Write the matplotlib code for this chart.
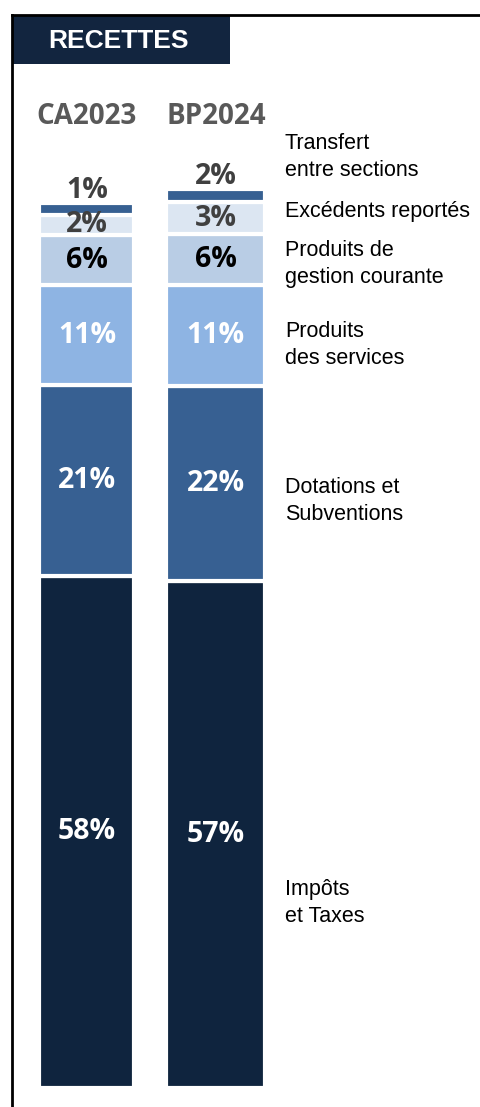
import matplotlib
matplotlib.use("Agg")
import matplotlib.pyplot as plt
from matplotlib.patches import Rectangle
from matplotlib.lines import Line2D
import numpy as np

# data (shares in %, bottom -> top)
years = ["CA2023", "BP2024"]
categories = ["Impôts\net Taxes", "Dotations et\nSubventions", "Produits\ndes services",
              "Produits de\ngestion courante", "Excédents reportés", "Transfert\nentre sections"]
ca2023 = [57.9, 21.5, 11.3, 5.7, 2.3, 1.3]
bp2024 = [57.3, 22.0, 11.4, 5.8, 3.6, 1.5]
ca2023_labels = ["58%", "21%", "11%", "6%", "2%", "1%"]
bp2024_labels = ["57%", "22%", "11%", "6%", "3%", "2%"]

colors = ["#0F243E", "#376092", "#8EB4E3", "#B9CDE5", "#DCE6F2", "#376092"]
text_colors = ["white", "white", "white", "black", "#404040", "#404040"]

W, H = 481, 1107
fig = plt.figure(figsize=(W / 100, H / 100), dpi=100)

# axes placed in pixel terms: x unit = 128.8 px, y unit = 8.85 px
px_unit_x, px_unit_y = 128.8, 8.85
left_px = 87 - 0.5 * px_unit_x
bottom_px = 1088
ymax = 110
ax = fig.add_axes([left_px / W, 1 - bottom_px / H,
                   2 * px_unit_x / W, ymax * px_unit_y / H])
ax.set_xlim(-0.5, 1.5)
ax.set_ylim(0, ymax)
ax.axis("off")

x = np.arange(len(years))
widths = [(91 + 4) / px_unit_x, (95 + 4) / px_unit_x]
series = np.array([ca2023, bp2024]).T
labels = [ca2023_labels, bp2024_labels]

bottoms = np.zeros(len(years))
for i, row in enumerate(series):
    ax.bar(x, row, width=widths, bottom=bottoms, color=colors[i],
           edgecolor="white", linewidth=3)
    for j in range(len(years)):
        yc = bottoms[j] + row[j] / 2
        if i == len(series) - 1:
            # smallest segment: label sits above the bar
            yc = bottoms[j] + row[j] + 1.4
        ax.text(x[j], yc, labels[j][i], ha="center", va="center",
                fontsize=20.5, fontweight="bold", family="Open Sans",
                color=text_colors[i], clip_on=False)
    bottoms += row

for j, name in enumerate(years):
    ax.text(x[j], (bottom_px - 117) / px_unit_y, name, ha="center", va="center",
            fontsize=20, fontweight="bold", family="Open Sans",
            color="#595959", clip_on=False)

# category names on the right (block centres in pixels)
label_y_px = [903, 501, 345, 264, 212, 157]
for name, ypx in zip(categories, label_y_px):
    fig.text(285 / W, 1 - ypx / H, name, ha="left", va="center",
             fontsize=15.5, family="Liberation Sans",
             color="black", linespacing=1.38)

# frame and header
fig.add_artist(Line2D([11.5 / W, 1], [1 - 14.5 / H, 1 - 14.5 / H],
                      color="black", linewidth=2))
fig.add_artist(Line2D([11.5 / W, 11.5 / W], [1 - 14.5 / H, 0],
                      color="black", linewidth=2))
fig.add_artist(Rectangle((12 / W, 1 - 64 / H), 218 / W, 48 / H,
                         transform=fig.transFigure, facecolor="#12253F",
                         edgecolor="none"))
fig.text(119 / W, 1 - 41 / H, "RECETTES", ha="center", va="center",
         fontsize=19, fontweight="bold", family="Liberation Sans", color="white")

fig.savefig("out.png", dpi=100)
